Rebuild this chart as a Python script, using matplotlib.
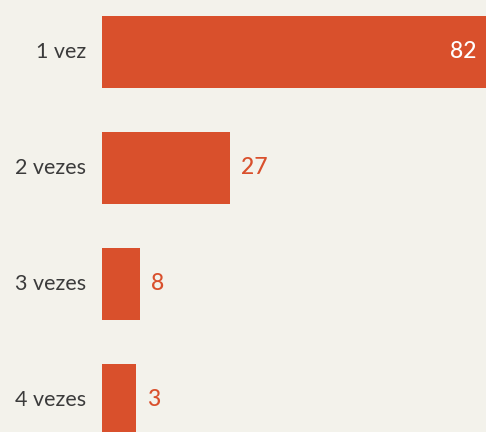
import matplotlib
matplotlib.use("Agg")
import matplotlib.pyplot as plt
import numpy as np

categories = ["1 vez", "2 vezes", "3 vezes", "4 vezes"]
values = [82, 27, 8, 3]

BG = "#f3f2eb"
BAR = "#d9502c"
TXT = "#3b3b3b"
MIN_LEN = 7.1  # minimum drawn bar length (display style)

fig = plt.figure(figsize=(4.86, 4.32), dpi=100, facecolor=BG)
ax = fig.add_axes([102 / 486, 0, 1 - 102 / 486, 1])
ax.set_facecolor(BG)

y = np.arange(len(categories))
drawn = np.maximum(values, MIN_LEN)
ax.barh(y, drawn, height=0.62, color=BAR, edgecolor="none")

ax.set_xlim(0, 81)
ax.set_ylim(3.276, -0.448)
for s in ax.spines.values():
    s.set_visible(False)
ax.set_xticks([])
ax.set_yticks([])

font = "Lato"
for yi, cat in zip(y, categories):
    ax.annotate(cat, xy=(0, yi), xytext=(-11.5, 0), textcoords="offset points",
                ha="right", va="center", fontsize=15.5, color=TXT, family=font,
                fontweight="normal")

for yi, v, d in zip(y, values, drawn):
    if v > 40:
        ax.annotate(str(v), xy=(81, yi), xytext=(-6.5, 0), textcoords="offset points",
                    ha="right", va="center", fontsize=16.5, color="white",
                    family=font, fontweight="medium")
    else:
        ax.annotate(str(v), xy=(d, yi), xytext=(8, 0), textcoords="offset points",
                    ha="left", va="center", fontsize=16.5, color=BAR,
                    family=font, fontweight="medium")

fig.savefig("out.png", dpi=100, facecolor=BG)
